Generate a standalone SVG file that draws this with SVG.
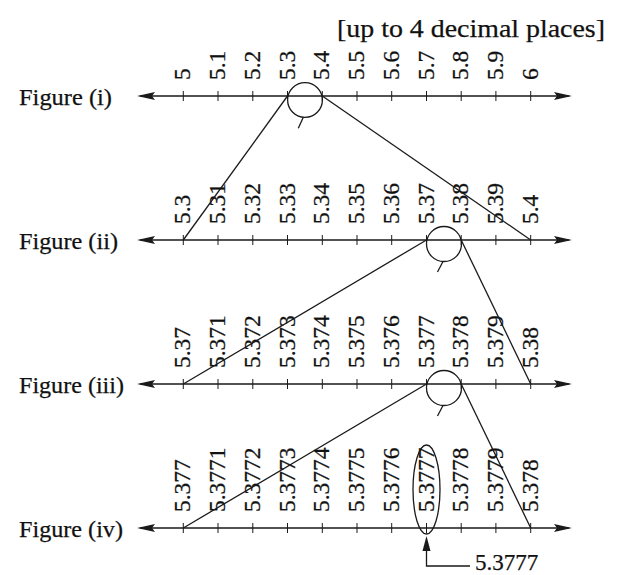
<svg xmlns="http://www.w3.org/2000/svg" xmlns:xlink="http://www.w3.org/1999/xlink" width="619" height="575" viewBox="0 0 619 575" font-family="'Liberation Serif', 'Times New Roman', serif">
<style>
text{font-family:'Liberation Serif','Times New Roman',serif;fill:#111;stroke:#111;stroke-width:0.25;}
.axis{stroke:#1a1a1a;stroke-width:1.4;fill:none;}
.tick{stroke:#1a1a1a;stroke-width:1;}
.con{stroke:#1a1a1a;stroke-width:1.3;fill:none;}
.ah{fill:#1a1a1a;stroke:none;}
</style>
<defs>
<path id="ahR" class="ah" d="M0,0 L-18,-4 L-15,0 L-18,4 Z"/>
<path id="ahL" class="ah" d="M0,0 L18,-4 L15,0 L18,4 Z"/>
<g id="ticks">
<path class="tick" d="M183.3,-5V5M218,-5V5M252.8,-5V5M287.5,-5V5M322.3,-5V5M357,-5V5M391.7,-5V5M426.5,-5V5M461.2,-5V5M495.9,-5V5M530.7,-5V5"/>
</g>
<g id="axisline">
<line class="axis" x1="140" y1="0" x2="569" y2="0"/>
<use xlink:href="#ahL" x="137" y="0"/>
<use xlink:href="#ahR" x="572" y="0"/>
<use xlink:href="#ticks"/>
</g>
</defs>

<text x="337" y="37" font-size="26" textLength="268" lengthAdjust="spacingAndGlyphs">[up to 4 decimal places]</text>

<g id="fig1">
<text x="19" y="105" font-size="24" textLength="93" lengthAdjust="spacingAndGlyphs">Figure (i)</text>
<use xlink:href="#axisline" y="96"/>
<g font-size="23.5">
<text transform="translate(190.3,80) rotate(-90)">5</text>
<text transform="translate(225,80) rotate(-90)">5.1</text>
<text transform="translate(259.8,80) rotate(-90)">5.2</text>
<text transform="translate(294.5,80) rotate(-90)">5.3</text>
<text transform="translate(329.3,80) rotate(-90)">5.4</text>
<text transform="translate(364,80) rotate(-90)">5.5</text>
<text transform="translate(398.7,80) rotate(-90)">5.6</text>
<text transform="translate(433.5,80) rotate(-90)">5.7</text>
<text transform="translate(468.2,80) rotate(-90)">5.8</text>
<text transform="translate(502.9,80) rotate(-90)">5.9</text>
<text transform="translate(537.7,80) rotate(-90)">6</text>
</g>
<circle class="con" cx="305" cy="100" r="17.4"/>
<line class="con" x1="303.3" y1="117.3" x2="298.3" y2="128.3"/>
</g>

<g id="fig2">
<text x="19" y="249" font-size="24" textLength="99" lengthAdjust="spacingAndGlyphs">Figure (ii)</text>
<use xlink:href="#axisline" y="240"/>
<g font-size="23.5">
<text transform="translate(190.3,224) rotate(-90)">5.3</text>
<text transform="translate(225,224) rotate(-90)">5.31</text>
<text transform="translate(259.8,224) rotate(-90)">5.32</text>
<text transform="translate(294.5,224) rotate(-90)">5.33</text>
<text transform="translate(329.3,224) rotate(-90)">5.34</text>
<text transform="translate(364,224) rotate(-90)">5.35</text>
<text transform="translate(398.7,224) rotate(-90)">5.36</text>
<text transform="translate(433.5,224) rotate(-90)">5.37</text>
<text transform="translate(468.2,224) rotate(-90)">5.38</text>
<text transform="translate(502.9,224) rotate(-90)">5.39</text>
<text transform="translate(537.7,224) rotate(-90)">5.4</text>
</g>
<circle class="con" cx="444" cy="244" r="17.5"/>
<line class="con" x1="443" y1="261.5" x2="437.5" y2="272"/>
</g>

<g id="fig3">
<text x="19" y="393" font-size="24" textLength="105" lengthAdjust="spacingAndGlyphs">Figure (iii)</text>
<use xlink:href="#axisline" y="384"/>
<g font-size="23.5">
<text transform="translate(190.3,368) rotate(-90)">5.37</text>
<text transform="translate(225,368) rotate(-90)">5.371</text>
<text transform="translate(259.8,368) rotate(-90)">5.372</text>
<text transform="translate(294.5,368) rotate(-90)">5.373</text>
<text transform="translate(329.3,368) rotate(-90)">5.374</text>
<text transform="translate(364,368) rotate(-90)">5.375</text>
<text transform="translate(398.7,368) rotate(-90)">5.376</text>
<text transform="translate(433.5,368) rotate(-90)">5.377</text>
<text transform="translate(468.2,368) rotate(-90)">5.378</text>
<text transform="translate(502.9,368) rotate(-90)">5.379</text>
<text transform="translate(537.7,368) rotate(-90)">5.38</text>
</g>
<circle class="con" cx="444" cy="388" r="17.5"/>
<line class="con" x1="443" y1="405.5" x2="437.5" y2="416"/>
</g>

<g id="fig4">
<text x="19" y="537" font-size="24" textLength="104" lengthAdjust="spacingAndGlyphs">Figure (iv)</text>
<use xlink:href="#axisline" y="528"/>
<g font-size="23.5">
<text transform="translate(190.3,512) rotate(-90)">5.377</text>
<text transform="translate(225,512) rotate(-90)">5.3771</text>
<text transform="translate(259.8,512) rotate(-90)">5.3772</text>
<text transform="translate(294.5,512) rotate(-90)">5.3773</text>
<text transform="translate(329.3,512) rotate(-90)">5.3774</text>
<text transform="translate(364,512) rotate(-90)">5.3775</text>
<text transform="translate(398.7,512) rotate(-90)">5.3776</text>
<text transform="translate(433.5,512) rotate(-90)">5.3777</text>
<text transform="translate(468.2,512) rotate(-90)">5.3778</text>
<text transform="translate(502.9,512) rotate(-90)">5.3779</text>
<text transform="translate(537.7,512) rotate(-90)">5.378</text>
</g>
<ellipse class="con" cx="426.5" cy="489.5" rx="13.5" ry="44.5"/>
</g>

<g id="answer">
<path class="ah" d="M426.5,536 L422.5,551 L430.5,551 Z"/>
<polyline class="con" points="426.5,550 426.5,566 470,566"/>
<text font-size="23" x="475" y="570">5.3777</text>
</g>

<g id="connectors">
<line class="con" x1="287.5" y1="96" x2="183.3" y2="240"/>
<line class="con" x1="322.3" y1="96" x2="530.7" y2="240"/>
<line class="con" x1="426.5" y1="240" x2="183.3" y2="384"/>
<line class="con" x1="461.2" y1="240" x2="530.7" y2="384"/>
<line class="con" x1="426.5" y1="384" x2="183.3" y2="528"/>
<line class="con" x1="461.2" y1="384" x2="530.7" y2="528"/>
</g>
</svg>
